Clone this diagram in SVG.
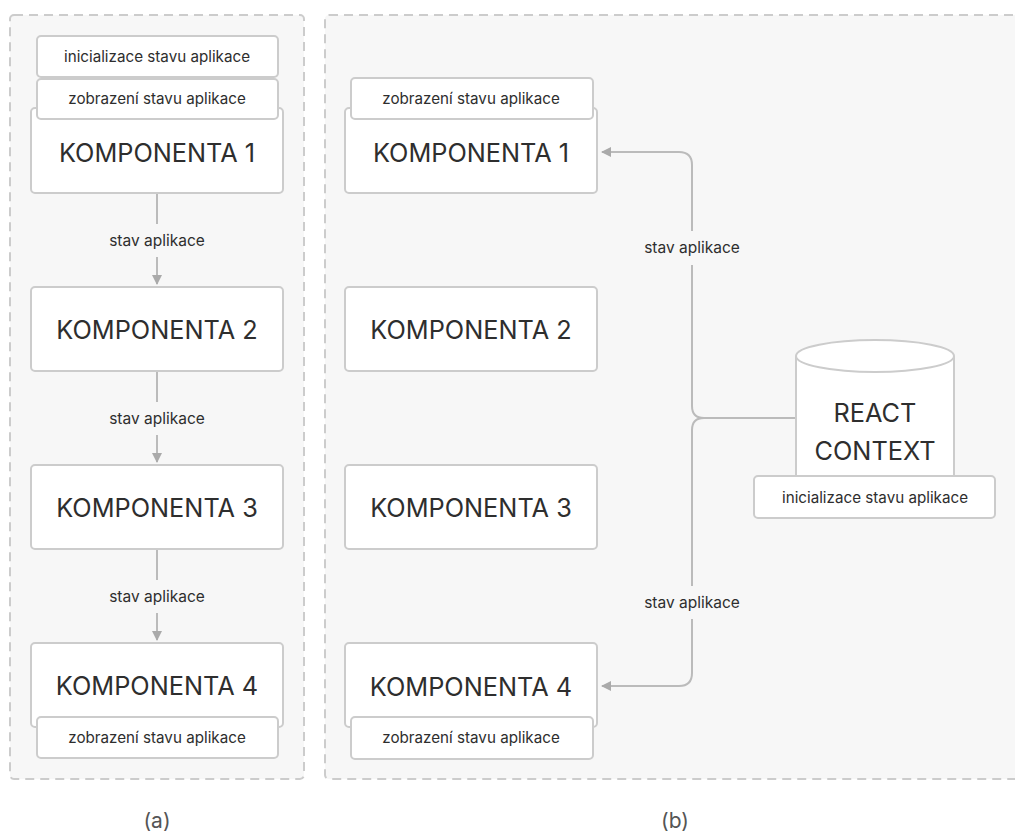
<svg xmlns="http://www.w3.org/2000/svg" width="1015" height="834" viewBox="0 0 1015 834">
  <style>
    .panel { fill: #f7f7f7; stroke: #cccccc; stroke-width: 2; stroke-dasharray: 9 6; }
    .box { fill: #ffffff; stroke: #cccccc; stroke-width: 2; }
    .big { font-family: Inter, "Liberation Sans", sans-serif; font-size: 25.3px; fill: #2e2e2e; text-anchor: middle; }
    .small { font-family: Inter, "Liberation Sans", sans-serif; font-size: 15.2px; fill: #2e2e2e; text-anchor: middle; }
    .lbl { font-family: Inter, "Liberation Sans", sans-serif; font-size: 15.5px; fill: #2e2e2e; text-anchor: middle; }
    .cap { font-family: Inter, "Liberation Sans", sans-serif; font-size: 21px; fill: #555555; text-anchor: middle; }
    .wire { fill: none; stroke: #bbbbbb; stroke-width: 2; }
  </style>
  <defs>
    <marker id="arrow" viewBox="0 0 10 10" refX="9" refY="5" markerWidth="10" markerHeight="10" markerUnits="userSpaceOnUse" orient="auto">
      <path d="M0,0 L10,5 L0,10 Z" fill="#aaaaaa"/>
    </marker>
  </defs>

  <rect width="1015" height="834" fill="#ffffff"/>

  <!-- panels -->
  <rect class="panel" x="10" y="15" width="294" height="764" rx="4"/>
  <rect class="panel" x="325" y="15" width="710" height="764" rx="4"/>

  <!-- connectors -->
  <g id="connectors">
    <!-- panel (a): chain down -->
    <line class="wire" x1="157" y1="194" x2="157" y2="224"/>
    <line class="wire" x1="157" y1="257" x2="157" y2="284" marker-end="url(#arrow)"/>
    <text class="lbl" x="157" y="246">stav aplikace</text>

    <line class="wire" x1="157" y1="372" x2="157" y2="402"/>
    <line class="wire" x1="157" y1="435" x2="157" y2="462" marker-end="url(#arrow)"/>
    <text class="lbl" x="157" y="424">stav aplikace</text>

    <line class="wire" x1="157" y1="550" x2="157" y2="580"/>
    <line class="wire" x1="157" y1="613" x2="157" y2="640" marker-end="url(#arrow)"/>
    <text class="lbl" x="157" y="602">stav aplikace</text>

    <!-- panel (b): context branches -->
    <path class="wire" d="M795,418 H704 Q692,418 692,406 V265"/>
    <path class="wire" d="M692,231 V165 Q692,152 679,152 H602" marker-end="url(#arrow)"/>
    <text class="lbl" x="692" y="253">stav aplikace</text>

    <path class="wire" d="M704,418 Q692,418 692,430 V586"/>
    <path class="wire" d="M692,619 V673 Q692,686 679,686 H602" marker-end="url(#arrow)"/>
    <text class="lbl" x="692" y="608">stav aplikace</text>
  </g>

  <!-- panel (a) nodes -->
  <g id="a-komponenta-1">
    <rect class="box" x="31" y="108" width="252" height="85" rx="4"/>
    <text class="big" x="157" y="162">KOMPONENTA 1</text>
  </g>
  <g id="a-zobrazeni-1">
    <rect class="box" x="37" y="79" width="241" height="40" rx="4"/>
    <text class="small" x="157" y="104">zobrazení stavu aplikace</text>
  </g>
  <g id="a-inicializace">
    <rect class="box" x="37" y="36" width="241" height="41" rx="4"/>
    <text class="small" x="157" y="62">inicializace stavu aplikace</text>
  </g>
  <g id="a-komponenta-2">
    <rect class="box" x="31" y="287" width="252" height="84" rx="4"/>
    <text class="big" x="157" y="339">KOMPONENTA 2</text>
  </g>
  <g id="a-komponenta-3">
    <rect class="box" x="31" y="465" width="252" height="84" rx="4"/>
    <text class="big" x="157" y="517">KOMPONENTA 3</text>
  </g>
  <g id="a-komponenta-4">
    <rect class="box" x="31" y="643" width="252" height="84" rx="4"/>
    <text class="big" x="157" y="695">KOMPONENTA 4</text>
  </g>
  <g id="a-zobrazeni-4">
    <rect class="box" x="37" y="717" width="241" height="41" rx="4"/>
    <text class="small" x="157" y="743">zobrazení stavu aplikace</text>
  </g>

  <!-- panel (b) nodes -->
  <g id="b-komponenta-1">
    <rect class="box" x="345" y="108" width="252" height="85" rx="4"/>
    <text class="big" x="471" y="162">KOMPONENTA 1</text>
  </g>
  <g id="b-zobrazeni-1">
    <rect class="box" x="351" y="78" width="242" height="41" rx="4"/>
    <text class="small" x="471" y="104">zobrazení stavu aplikace</text>
  </g>
  <g id="b-komponenta-2">
    <rect class="box" x="345" y="287" width="252" height="84" rx="4"/>
    <text class="big" x="471" y="339">KOMPONENTA 2</text>
  </g>
  <g id="b-komponenta-3">
    <rect class="box" x="345" y="465" width="252" height="84" rx="4"/>
    <text class="big" x="471" y="517">KOMPONENTA 3</text>
  </g>
  <g id="b-komponenta-4">
    <rect class="box" x="345" y="643" width="252" height="84" rx="4"/>
    <text class="big" x="471" y="696">KOMPONENTA 4</text>
  </g>
  <g id="b-zobrazeni-4">
    <rect class="box" x="351" y="717" width="242" height="42" rx="4"/>
    <text class="small" x="471" y="743">zobrazení stavu aplikace</text>
  </g>

  <!-- React context store -->
  <g id="react-context">
    <path class="box" d="M796,356 V480 H954 V356"/>
    <ellipse class="box" cx="875" cy="356" rx="79" ry="16"/>
    <text class="big" x="875" y="422">REACT</text>
    <text class="big" x="875" y="460">CONTEXT</text>
  </g>
  <g id="b-inicializace">
    <rect class="box" x="754" y="476" width="241" height="42" rx="4"/>
    <text class="small" x="875" y="503">inicializace stavu aplikace</text>
  </g>

  <!-- captions -->
  <text class="cap" x="157" y="828">(a)</text>
  <text class="cap" x="675" y="828">(b)</text>
</svg>
